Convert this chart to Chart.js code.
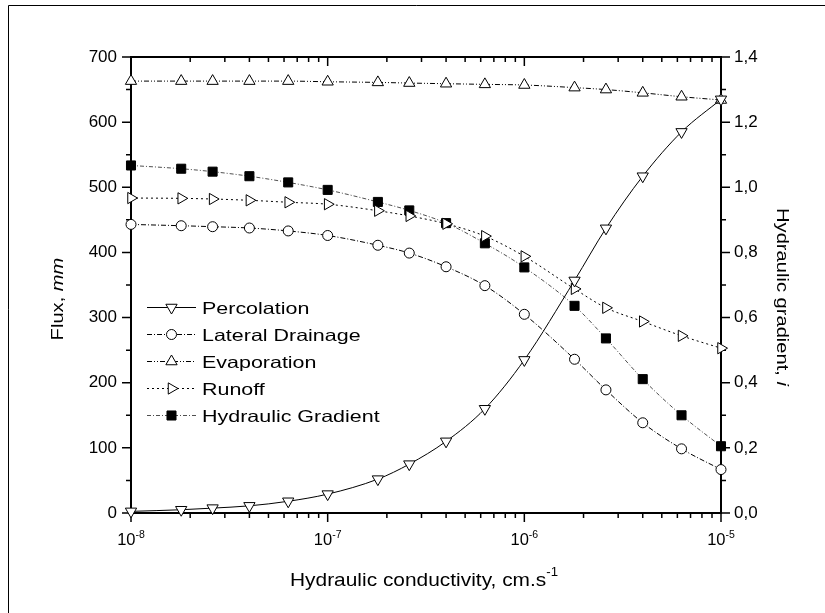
<!DOCTYPE html>
<html>
<head>
<meta charset="utf-8">
<script src="https://cdn.jsdelivr.net/npm/chart.js@4.4.0/dist/chart.umd.min.js"></script>
<style>
  html, body { margin: 0; padding: 0; background: #fff; }
</style>
</head>
<body>
<canvas id="fluxChart" width="825" height="613"></canvas>
<script>
// hydraulic conductivity, cm/s
const conductivity = [1e-8, 1.8e-8, 2.6e-8, 4e-8, 6.3e-8, 1e-7, 1.8e-7, 2.6e-7, 4e-7, 6.3e-7,
                      1e-6, 1.8e-6, 2.6e-6, 4e-6, 6.3e-6, 1e-5];
// flux, mm
const percolation = [2.5, 5, 7.5, 11, 18, 29, 52, 75, 110, 160, 235, 357, 437, 517, 585, 635];
const lateralDrainage = [443, 441, 439.5, 437.5, 433, 426, 411, 399, 378, 349, 305, 236, 189, 138.5, 98.5, 66.7];
const evaporation = [663, 663, 663, 663, 663, 662, 661, 660, 659, 658, 657, 653, 650, 645, 639, 634];
const runoff = [483.5, 483, 482, 480, 477, 474, 464, 456, 444, 425, 394, 344, 315, 294, 272, 253];
// hydraulic gradient, i (right axis)
const hydraulicGradient = [1.067, 1.057, 1.048, 1.034, 1.015, 0.992, 0.955, 0.929, 0.89, 0.828,
                           0.754, 0.636, 0.536, 0.411, 0.30, 0.205];

const seriesNames = ['Percolation', 'Lateral Drainage', 'Evaporation', 'Runoff', 'Hydraulic Gradient'];
const fluxTicks = [0, 100, 200, 300, 400, 500, 600, 700];
const gradientTicks = [0, 0.2, 0.4, 0.6, 0.8, 1.0, 1.2, 1.4];
const decadeTicks = [1e-8, 1e-7, 1e-6, 1e-5];
const decadeExponents = ['-8', '-7', '-6', '-5'];

const FONT = '"Liberation Sans", Arial, sans-serif';

function pts(values) {
    return conductivity.map((x, i) => ({x: x, y: values[i]}));
}

const datasets = [
    {label: seriesNames[0], data: pts(percolation), yAxisID: 'y', borderDash: [],
     pointStyle: 'triangle', pointRotation: 180, pointRadius: 6.5},
    {label: seriesNames[1], data: pts(lateralDrainage), yAxisID: 'y', borderDash: [5, 2, 1, 2],
     pointStyle: 'circle', pointRotation: 0, pointRadius: 5},
    {label: seriesNames[2], data: pts(evaporation), yAxisID: 'y', borderDash: [5, 2, 1, 2, 1, 2],
     pointStyle: 'triangle', pointRotation: 0, pointRadius: 6.5},
    {label: seriesNames[3], data: pts(runoff), yAxisID: 'y', borderDash: [2, 3],
     pointStyle: 'triangle', pointRotation: 90, pointRadius: 6.5},
    {label: seriesNames[4], data: pts(hydraulicGradient), yAxisID: 'y1', borderDash: [4, 2, 1, 2],
     pointStyle: 'rect', pointRotation: 0, pointRadius: 6.4}
].map((d, i) => Object.assign(d, {
    borderColor: i === 4 ? '#222' : '#000',
    borderWidth: i === 4 ? 0.8 : 1,
    pointBorderColor: '#000',
    pointBorderWidth: 1,
    pointBackgroundColor: i === 4 ? '#000' : '#fff',
    cubicInterpolationMode: 'monotone',
    fill: false,
    clip: false
}));

// text in the original is wider than Liberation Sans, so stretch along the reading direction
function drawLabel(ctx, parts, x, y, angle, stretch, align) {
    ctx.save();
    ctx.translate(x, y);
    ctx.rotate(angle);
    ctx.scale(stretch, 1);
    let total = 0;
    parts.forEach(p => { ctx.font = p.font; p.w = ctx.measureText(p.text).width; total += p.w; });
    let cx = align === 'center' ? -total / 2 : 0;
    ctx.textAlign = 'left';
    ctx.textBaseline = 'alphabetic';
    parts.forEach(p => {
        ctx.font = p.font;
        ctx.fillText(p.text, cx, p.dy || 0);
        cx += p.w;
    });
    ctx.restore();
}

const axesPlugin = {
    id: 'axesPlugin',
    beforeDatasetsDraw(chart) {
        const ctx = chart.ctx;
        const {left, right, top, bottom} = chart.chartArea;
        const xs = chart.scales.x, yl = chart.scales.y, yr = chart.scales.y1;
        ctx.save();
        ctx.strokeStyle = '#000';
        ctx.lineWidth = 1;
        ctx.beginPath();
        ctx.moveTo(8.5, 613); ctx.lineTo(8.5, 5.5); ctx.lineTo(825, 5.5);
        ctx.stroke();

        ctx.lineWidth = 2;
        ctx.strokeRect(left, top, right - left, bottom - top);

        ctx.lineWidth = 1.5;
        ctx.beginPath();
        fluxTicks.forEach((v, i) => {
            const y = yl.getPixelForValue(v);
            ctx.moveTo(left - 9, y); ctx.lineTo(left, y);
            if (i < fluxTicks.length - 1) {
                const ym = yl.getPixelForValue((v + fluxTicks[i + 1]) / 2);
                ctx.moveTo(left - 5, ym); ctx.lineTo(left, ym);
            }
        });
        gradientTicks.forEach((v, i) => {
            const y = yr.getPixelForValue(v);
            ctx.moveTo(right, y); ctx.lineTo(right + 9, y);
            if (i < gradientTicks.length - 1) {
                const ym = yr.getPixelForValue((v + gradientTicks[i + 1]) / 2);
                ctx.moveTo(right, ym); ctx.lineTo(right + 5, ym);
            }
        });
        decadeTicks.forEach((d, i) => {
            const x = xs.getPixelForValue(d);
            ctx.moveTo(x, bottom); ctx.lineTo(x, bottom + 9);
            ctx.moveTo(x, top); ctx.lineTo(x, top + 9);
            if (i < decadeTicks.length - 1) {
                for (let k = 2; k <= 9; k++) {
                    const xm = xs.getPixelForValue(k * d);
                    ctx.moveTo(xm, bottom); ctx.lineTo(xm, bottom + 5);
                    ctx.moveTo(xm, top); ctx.lineTo(xm, top + 5);
                }
            }
        });
        ctx.stroke();
        ctx.restore();
    },
    afterDraw(chart) {
        const ctx = chart.ctx;
        const {left, right, top, bottom} = chart.chartArea;
        const xs = chart.scales.x;
        ctx.save();
        ctx.fillStyle = '#000';

        // x tick labels 10^n
        decadeTicks.forEach((d, i) => {
            drawLabel(ctx, [
                {text: '10', font: '16.5px ' + FONT},
                {text: decadeExponents[i], font: '10.5px ' + FONT, dy: -7}
            ], xs.getPixelForValue(d), bottom + 32, 0, 1, 'center');
        });

        // axis titles
        drawLabel(ctx, [
            {text: 'Hydraulic conductivity, cm.s', font: '19px ' + FONT},
            {text: '-1', font: '12px ' + FONT, dy: -10}
        ], (left + right) / 2 - 2, 586, 0, 1.1, 'center');

        drawLabel(ctx, [
            {text: 'Flux, ', font: '16.5px ' + FONT},
            {text: 'mm', font: 'italic 16.5px ' + FONT}
        ], 63, 299, -Math.PI / 2, 1.22, 'center');

        drawLabel(ctx, [
            {text: 'Hydraulic gradient, ', font: '16.5px ' + FONT},
            {text: 'i', font: 'italic 16.5px ' + FONT}
        ], 777, 297, Math.PI / 2, 1.22, 'center');

        // legend
        chart.data.datasets.forEach((ds, i) => {
            const y = 307 + i * 27;
            ctx.save();
            ctx.strokeStyle = ds.borderColor;
            ctx.lineWidth = ds.borderWidth;
            ctx.setLineDash(ds.borderDash);
            ctx.beginPath();
            ctx.moveTo(147, y + 0.5); ctx.lineTo(196, y + 0.5);
            ctx.stroke();
            ctx.restore();
            ctx.save();
            ctx.strokeStyle = ds.pointBorderColor;
            ctx.fillStyle = ds.pointBackgroundColor;
            ctx.lineWidth = ds.pointBorderWidth;
            Chart.helpers.drawPoint(ctx, {
                pointStyle: ds.pointStyle, rotation: ds.pointRotation,
                radius: ds.pointRadius, borderWidth: ds.pointBorderWidth
            }, 171.5, y + 0.5);
            ctx.restore();
            drawLabel(ctx, [{text: ds.label, font: '16.5px ' + FONT}], 202, y + 6.5, 0, 1.3, 'left');
        });
        ctx.restore();
    }
};

new Chart(document.getElementById('fluxChart').getContext('2d'), {
    type: 'line',
    data: {datasets: datasets},
    options: {
        responsive: false,
        animation: false,
        devicePixelRatio: 1,
        layout: {padding: {top: 57, left: 0, right: 0, bottom: 0}},
        plugins: {legend: {display: false}, tooltip: {enabled: false}},
        scales: {
            x: {
                type: 'logarithmic',
                min: 1e-8,
                max: 1e-5,
                grid: {display: false, drawTicks: false},
                border: {display: false},
                ticks: {display: false},
                afterFit: s => { s.height = 100; }
            },
            y: {
                position: 'left',
                min: 0,
                max: 700,
                grid: {display: false, drawTicks: false},
                border: {display: false},
                afterBuildTicks: s => { s.ticks = fluxTicks.map(v => ({value: v})); },
                ticks: {color: '#000', font: {family: FONT, size: 17}, padding: 14},
                afterFit: s => { s.width = 131; }
            },
            y1: {
                position: 'right',
                min: 0,
                max: 1.4,
                grid: {display: false, drawTicks: false},
                border: {display: false},
                afterBuildTicks: s => { s.ticks = gradientTicks.map(v => ({value: v})); },
                ticks: {
                    color: '#000', font: {family: FONT, size: 17}, padding: 13,
                    callback: v => v.toFixed(1).replace('.', ',')
                },
                afterFit: s => { s.width = 104; }
            }
        }
    },
    plugins: [axesPlugin]
});
</script>
</body>
</html>
